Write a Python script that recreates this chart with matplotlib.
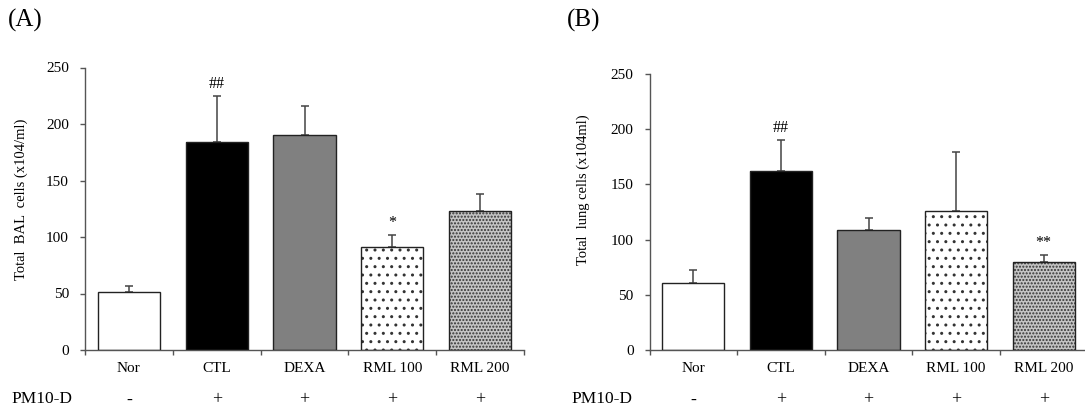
import matplotlib
matplotlib.use("Agg")
import matplotlib.pyplot as plt
import numpy as np

plt.rcParams['font.family'] = ['Liberation Serif', 'DejaVu Serif']

categories = ["Nor", "CTL", "DEXA", "RML 100", "RML 200"]
pm10 = ["-", "+", "+", "+", "+"]

bal_mean = [51, 184, 190, 91, 123]
bal_err = [6, 41, 26, 11, 15]
bal_marks = ["", "##", "", "*", ""]

lung_mean = [60.5, 162, 109, 126, 80]
lung_err = [12, 28.5, 11, 53, 6]
lung_marks = ["", "##", "", "", "**"]

face = ["white", "black", "#808080", "white", "#c4c4c4"]
hatches = [None, None, None, "..", "....."]

fig = plt.figure(figsize=(10.85, 4.08), dpi=100)
axA = fig.add_axes([85 / 1085, 58 / 408, 439 / 1085, 282.5 / 408])
axB = fig.add_axes([649.5 / 1085, 58 / 408, 438 / 1085, 276 / 408])

spine_col = "#555555"

def panel(ax, means, errs, marks, ylabel, ylab_xy, letter, letter_x, pm_x):
    x = np.arange(len(categories))
    w = 0.71
    for i in range(len(categories)):
        ax.bar(x[i], means[i], width=w, color=face[i],
               edgecolor="#333333" if hatches[i] else face[i],
               hatch=hatches[i], linewidth=0, zorder=2)
    ax.bar(x, means, width=w, fill=False, edgecolor="#222222", linewidth=1.0, zorder=3)
    ax.errorbar(x, means, yerr=[np.zeros(len(errs)), errs], fmt="none",
                ecolor="#444444", elinewidth=1.1, capsize=3, capthick=1.1, zorder=1)
    for i, m in enumerate(marks):
        if m:
            ax.annotate(m, (x[i], means[i] + errs[i]), xytext=(0, 3),
                        textcoords="offset points", ha="center", va="bottom",
                        fontsize=11.5)
    ax.set_xlim(-0.5, len(categories) - 0.5)
    ax.set_ylim(0, 250)
    ax.set_yticks([0, 50, 100, 150, 200, 250])
    ax.set_xticks(np.arange(len(categories) + 1) - 0.5)
    ax.set_xticklabels([])
    ax.set_xticks(x, minor=True)
    ax.set_xticklabels(categories, minor=True)
    ax.tick_params(axis="x", which="major", direction="out", length=3.5,
                   color=spine_col, width=1)
    ax.tick_params(axis="x", which="minor", length=0, pad=8.5, labelsize=11)
    ax.tick_params(axis="y", direction="out", length=3.5, color=spine_col,
                   width=1, labelsize=11, pad=8)
    for s in ["top", "right"]:
        ax.spines[s].set_visible(False)
    for s in ["left", "bottom"]:
        ax.spines[s].set_color(spine_col)
        ax.spines[s].set_linewidth(1)
    ax.set_ylabel(ylabel, fontsize=10.5, va="center", ha="center")
    ax.yaxis.set_label_coords(*ylab_xy)
    for i, s in enumerate(pm10):
        ax.annotate(s, (x[i], 0), xycoords=("data", "axes fraction"),
                    xytext=(0, -36), textcoords="offset points",
                    ha="center", va="center", fontsize=13)
    fig.text(letter_x, 0.95, letter, fontsize=18, ha="left", va="center")
    fig.text(pm_x, 0.021, "PM10-D", fontsize=12.5, ha="left", va="center")

panel(axA, bal_mean, bal_err, bal_marks, "Total  BAL  cells (x104/ml)",
      (-0.145, 0.5345), "(A)", 0.007, 0.011)
panel(axB, lung_mean, lung_err, lung_marks, "Total  lung cells (x104ml)",
      (-0.151, 0.58), "(B)", 0.5225, 0.527)

fig.savefig("out.png", dpi=100)
